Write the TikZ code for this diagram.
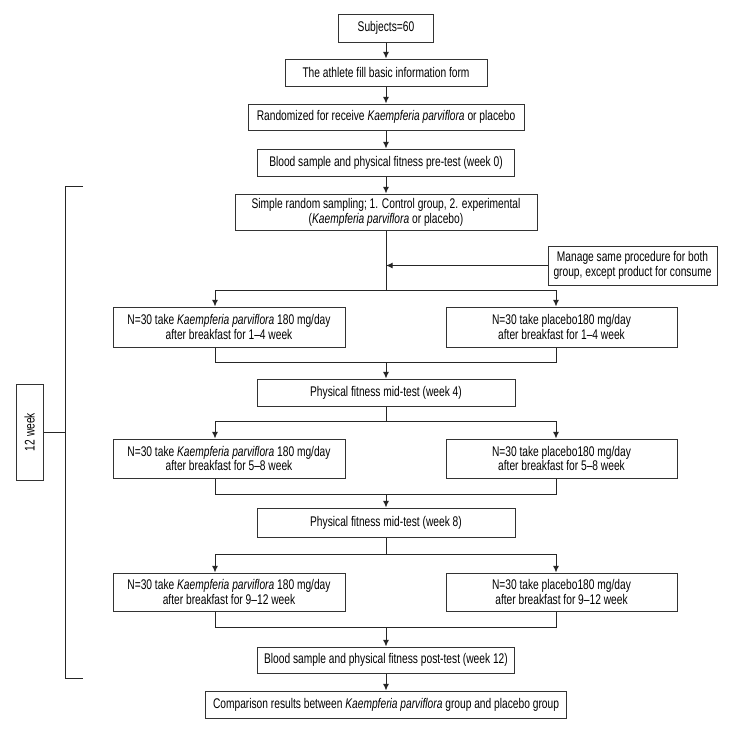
\documentclass[tikz,border=0pt]{standalone}
\usepackage{fontspec}
\setmainfont{Liberation Sans}[FakeStretch=0.73]
\usetikzlibrary{arrows.meta}
\tikzset{
  stage/.style={draw=black!80, line width=0.75pt, align=center, inner sep=1pt,
    font=\fontsize{10.5}{11.2}\selectfont},
  boxw/.style={minimum width=#1*0.75pt},
  boxh/.style={minimum height=#1*0.75pt},
  link/.style={draw=black!85, line width=0.75pt},
  arr/.style={-{Latex[length=5pt,width=4.5pt]}}
}

\begin{document}
\begin{tikzpicture}[x=0.75pt,y=-0.75pt]
\useasboundingbox (0,0) rectangle (733,733);

\node[stage,boxw=95,boxh=28] (subj) at (386,28) {Subjects=60};
\node[stage,boxw=202,boxh=27] (form) at (386,72.5) {The athlete fill basic information form};
\node[stage,boxw=276,boxh=26] (rand) at (386,117) {Randomized for receive \textit{Kaempferia parviflora} or placebo};
\node[stage,boxw=257,boxh=27] (pre) at (386,162.5) {Blood sample and physical fitness pre-test (week 0)};
\node[stage,boxw=302,boxh=36] (samp) at (386,212) {Simple random sampling; 1. Control group, 2. experimental\\(\textit{Kaempferia parviflora} or placebo)};
\node[stage,boxw=169,boxh=39] (manage) at (632.5,265.5) {Manage same procedure for both\\group, except product for consume};

\node[stage,boxw=232,boxh=40] (L1) at (229,327) {N=30 take \textit{Kaempferia parviflora} 180 mg/day\\after breakfast for 1--4 week};
\node[stage,boxw=231,boxh=40] (R1) at (561.5,327) {N=30 take placebo180 mg/day\\after breakfast for 1--4 week};
\node[stage,boxw=258,boxh=27] (mid4) at (386,392.5) {Physical fitness mid-test (week 4)};

\node[stage,boxw=232,boxh=39] (L2) at (229,458.5) {N=30 take \textit{Kaempferia parviflora} 180 mg/day\\after breakfast for 5--8 week};
\node[stage,boxw=231,boxh=39] (R2) at (561.5,458.5) {N=30 take placebo180 mg/day\\after breakfast for 5--8 week};
\node[stage,boxw=258,boxh=29] (mid8) at (386,522.5) {Physical fitness mid-test (week 8)};

\node[stage,boxw=232,boxh=38] (L3) at (229,592) {N=30 take \textit{Kaempferia parviflora} 180 mg/day\\after breakfast for 9--12 week};
\node[stage,boxw=231,boxh=38] (R3) at (561.5,592) {N=30 take placebo180 mg/day\\after breakfast for 9--12 week};
\node[stage,boxw=257,boxh=26] (post) at (386,660) {Blood sample and physical fitness post-test (week 12)};
\node[stage,boxw=361,boxh=27] (comp) at (386,704.5) {Comparison results between \textit{Kaempferia parviflora} group and placebo group};

\node[stage,rotate=90,boxw=96,boxh=27] (wk) at (29.5,432) {12 week};

% main line
\draw[link,arr] (subj) -- (form);
\draw[link,arr] (form) -- (rand);
\draw[link,arr] (rand) -- (pre);
\draw[link,arr] (pre) -- (samp);
\draw[link,arr] (post) -- (comp);
\draw[link,arr] (manage.west) -- (manage.west -| samp.south);

% branches
\coordinate (lft) at (215,0);
\coordinate (rgt) at (556,0);
\foreach \top/\lb/\rb/\bot/\by/\my in {samp/L1/R1/mid4/290/362, mid4/L2/R2/mid8/421/494, mid8/L3/R3/post/554/627}
{
  \coordinate (split) at (386,\by);
  \coordinate (join) at (386,\my);
  \draw[link] (\top.south) -- (split);
  \draw[link,arr] (split) -| (lft |- \lb.north);
  \draw[link,arr] (split) -| (rgt |- \rb.north);
  \draw[link] (lft |- \lb.south) |- (join);
  \draw[link] (rgt |- \rb.south) |- (join);
  \draw[link,arr] (join) -- (\bot.north);
}

% 12 week bracket
\draw[link] (83,186) -- (65,186) -- (65,678) -- (83,678);
\draw[link] (wk.south) -- (wk.south -| 65,0);

\end{tikzpicture}
\end{document}
